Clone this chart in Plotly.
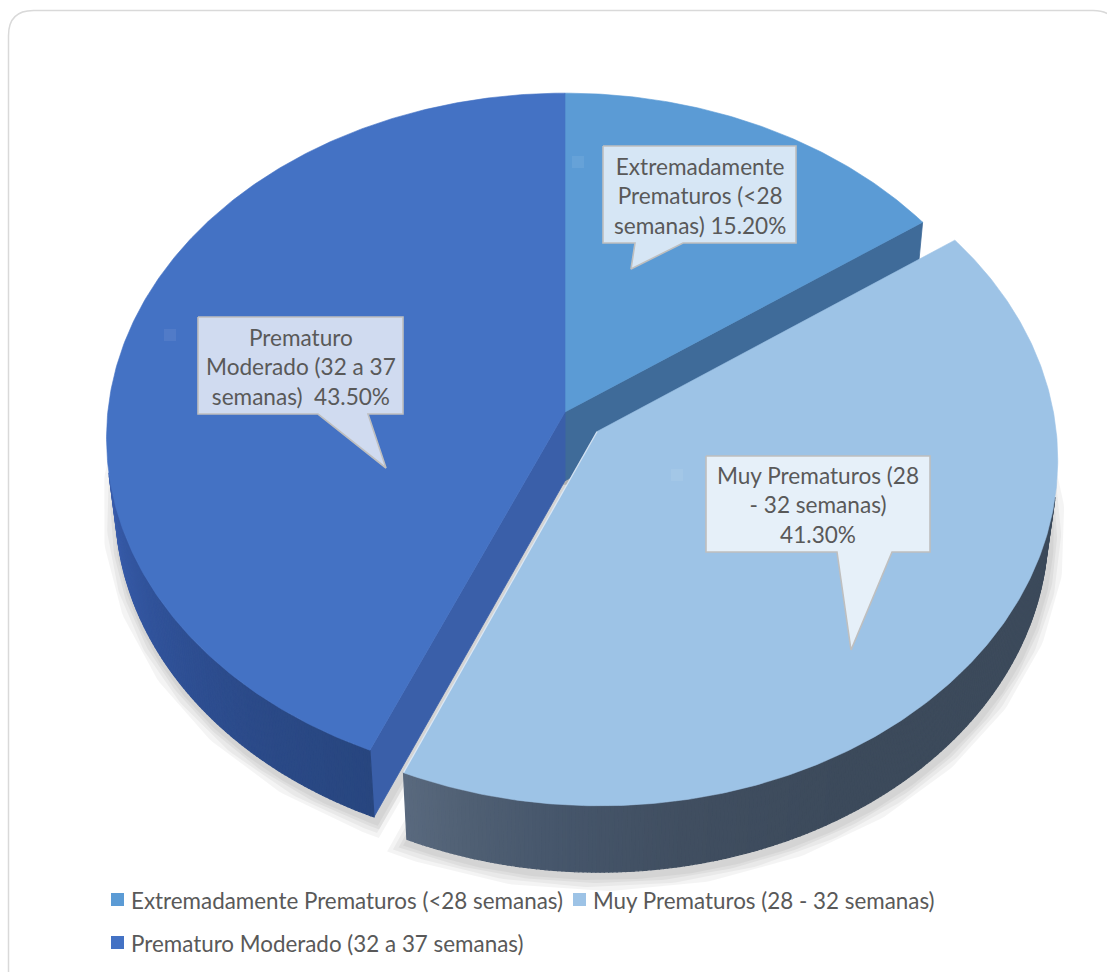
import numpy as np
import plotly.graph_objects as go

# ---------------------------------------------------------------- data
categories = [
    "Extremadamente Prematuros (<28 semanas)",
    "Muy Prematuros (28 - 32 semanas)",
    "Prematuro Moderado (32 a 37 semanas)",
]
percentages = [15.2, 41.3, 43.5]

# line breaks used inside the callouts; {v} receives the formatted value
label_templates = [
    "Extremadamente<br>Prematuros (&lt;28<br>semanas) {v}",
    "Muy Prematuros (28<br>- 32 semanas)<br>{v}",
    "Prematuro<br>Moderado (32 a 37<br>semanas)\u00a0\u00a0{v}",
]

# ---------------------------------------------------------------- style
top_colors = ["#5B9BD5", "#9DC3E6", "#4472C4"]
explode = [0.0, 0.09, 0.0]
# outer side-wall shading as (angle in degrees, colour) stops
rim_stops = [
    [(0, "#3F6B99"), (360, "#3F6B99")],
    [(0, "#3B4A5B"), (150, "#3C4A5B"), (170, "#404E60"), (185, "#46566B"),
     (195, "#4F5F73"), (205, "#5B6B80")],
    [(200, "#27457D"), (220, "#2B4A88"), (240, "#305299"), (265, "#3B5FAF"), (360, "#3B5FAF")],
]
cut_colors = ["#3F6B99", "#4A5A6E", "#3A5FA9"]   # radial cut faces
TEXT = "#595959"
FONT = "Lato"

W, H = 1107, 972
CX, CY = 565.0, 412.0          # screen position of the pie centre
FOCAL, DIST = 4005.0, 8.76     # perspective camera
TILT = np.radians(48.6)
THICK = 0.232                  # pie thickness (radius = 1)

# callout boxes: (x0, y0, x1, y1), pointer base x-range, pointer tip
callouts = [
    dict(box=(603, 146, 796, 243), base=(635, 683), tip=(631, 269), key=(572, 156)),
    dict(box=(706, 456, 930, 552), base=(837, 892), tip=(851, 650), key=(671, 469)),
    dict(box=(198, 317, 403, 414), base=(318, 368), tip=(386, 468), key=(164, 329)),
]
legend_pos = [(111, 900), (573, 900), (111, 943)]

ca, sa = np.cos(TILT), np.sin(TILT)
camera = np.array([0.0, DIST * sa, -DIST * ca])


def project(X, Y, Z):
    X, Y, Z = np.asarray(X, float), np.asarray(Y, float), np.asarray(Z, float)
    up = Y * ca + Z * sa
    depth = DIST + Z * ca - Y * sa
    return CX + FOCAL * X / depth, CY - FOCAL * up / depth


def hex_rgb(h):
    h = h.lstrip("#")
    return np.array([int(h[i:i + 2], 16) for i in (0, 2, 4)], float)


def shade(stops, ang):
    a = [s[0] for s in stops]
    cols = np.array([hex_rgb(s[1]) for s in stops])
    rgb = [np.interp(ang, a, cols[:, k]) for k in range(3)]
    return "rgb(%d,%d,%d)" % tuple(int(round(v)) for v in rgb)


fig = go.Figure()


def polygon(xs, ys, fill, line=None, width=0.8):
    xs, ys = list(xs), list(ys)
    fig.add_trace(go.Scatter(
        x=xs + [xs[0]], y=ys + [ys[0]], mode="lines", fill="toself",
        fillcolor=fill, line=dict(color=line or fill, width=width),
        hoverinfo="skip", showlegend=False))


def outline(xs, ys, color, width):
    fig.add_trace(go.Scatter(
        x=list(xs), y=list(ys), mode="lines",
        line=dict(color=color, width=width, shape="linear"),
        hoverinfo="skip", showlegend=False))


def facing(normal, point):
    return float(np.dot(normal, camera - point)) > 0


# slice angles, clockwise from twelve o'clock
total = float(sum(percentages))
bounds = np.concatenate([[0.0], np.cumsum(percentages) / total * 360.0])

slices = []
for i, pct in enumerate(percentages):
    t0, t1 = bounds[i], bounds[i + 1]
    mid = np.radians((t0 + t1) / 2)
    dx, dz = explode[i] * np.sin(mid), explode[i] * np.cos(mid)
    n = max(int((t1 - t0) * 2), 8)
    th = np.radians(np.linspace(t0, t1, n + 1))
    slices.append(dict(t0=t0, t1=t1, dx=dx, dz=dz, th=th))

# soft drop shadow round the base of each slice
for s in slices:
    th, dx, dz = s["th"], s["dx"], s["dz"]
    bx, by = project(np.concatenate([[dx], np.sin(th) + dx, [dx]]),
                     np.full(len(th) + 2, -THICK),
                     np.concatenate([[dz], np.cos(th) + dz, [dz]]))
    for w in (30, 22, 14, 8):
        outline(bx + 2, by + 4, "rgba(0,0,0,0.045)", w)

# side faces (only those turned towards the camera)
for i, s in enumerate(slices):
    th, dx, dz = s["th"], s["dx"], s["dz"]
    # radial cut faces
    for ang, sign in ((np.radians(s["t0"]), -1), (np.radians(s["t1"]), 1)):
        normal = sign * np.array([np.cos(ang), 0.0, -np.sin(ang)])
        point = np.array([dx + 0.5 * np.sin(ang), -THICK / 2, dz + 0.5 * np.cos(ang)])
        if facing(normal, point):
            X = [dx, dx + np.sin(ang), dx + np.sin(ang), dx]
            Y = [0, 0, -THICK, -THICK]
            Z = [dz, dz + np.cos(ang), dz + np.cos(ang), dz]
            px, py = project(X, Y, Z)
            polygon(px, py, cut_colors[i])
    # curved rim
    for k in range(len(th) - 1):
        a, b = th[k], th[k + 1]
        m = (a + b) / 2
        normal = np.array([np.sin(m), 0.0, np.cos(m)])
        point = np.array([np.sin(m) + dx, -THICK / 2, np.cos(m) + dz])
        if not facing(normal, point):
            continue
        X = [np.sin(a) + dx, np.sin(b) + dx, np.sin(b) + dx, np.sin(a) + dx]
        Y = [0, 0, -THICK, -THICK]
        Z = [np.cos(a) + dz, np.cos(b) + dz, np.cos(b) + dz, np.cos(a) + dz]
        px, py = project(X, Y, Z)
        c = shade(rim_stops[i], np.degrees(m))
        polygon(px, py, c, width=1.2)

# top faces
for i, s in enumerate(slices):
    th, dx, dz = s["th"], s["dx"], s["dz"]
    X = np.concatenate([[dx], np.sin(th) + dx])
    Z = np.concatenate([[dz], np.cos(th) + dz])
    px, py = project(X, np.zeros_like(X), Z)
    polygon(px, py, top_colors[i], width=0.6)
    if explode[i] > 0:
        # pale highlight on the exposed leading edge
        ang = np.radians(s["t1"])
        ex, ey = project([dx, dx + np.sin(ang)], [0, 0], [dz, dz + np.cos(ang)])
        outline(ex, ey, "rgba(235,242,250,0.75)", 1.3)

# data-label callouts
annotations = []
for i, c in enumerate(callouts):
    x0, y0, x1, y1 = c["box"]
    b0, b1 = c["base"]
    tx, ty = c["tip"]
    xs = [x0, x1, x1, b1, tx, b0, x0]
    ys = [y0, y0, y1, y1, ty, y1, y1]
    polygon(xs, ys, "rgba(255,255,255,0.75)", line="#BFBFBF", width=1.6)
    kx, ky = c["key"]
    polygon([kx, kx + 12, kx + 12, kx], [ky, ky, ky + 12, ky + 12],
            "rgba(255,255,255,0.07)", width=0)
    text = label_templates[i].format(v=f"{percentages[i]:.2f}%")
    annotations.append(dict(
        x=(x0 + x1) / 2, y=(y0 + y1) / 2 + 1, xref="x", yref="y", text=text,
        showarrow=False, align="center", xanchor="center", yanchor="middle",
        font=dict(family=FONT, size=22.6, color=TEXT)))

# legend
for i, (lx, ly) in enumerate(legend_pos):
    polygon([lx, lx + 13, lx + 13, lx], [ly - 7, ly - 7, ly + 6, ly + 6],
            top_colors[i], width=0)
    annotations.append(dict(
        x=lx + 18, y=ly, xref="x", yref="y", text=categories[i].replace("<", "&lt;"),
        showarrow=False, xanchor="left", yanchor="middle",
        font=dict(family=FONT, size=22.4, color=TEXT)))

# rounded chart-area border
frame = ("M 33.5,10.5 L 1093,10.5 Q 1118,10.5 1118,35.5 L 1118,995 "
         "L 8.5,995 L 8.5,35.5 Q 8.5,10.5 33.5,10.5 Z")

fig.update_layout(
    width=W, height=H, autosize=False,
    margin=dict(l=0, r=0, t=0, b=0),
    paper_bgcolor="white", plot_bgcolor="white",
    xaxis=dict(range=[0, W], visible=False, fixedrange=True),
    yaxis=dict(range=[H, 0], visible=False, fixedrange=True),
    showlegend=False,
    annotations=annotations,
    shapes=[dict(type="path", path=frame, xref="x", yref="y",
                 line=dict(color="#D9D9D9", width=1.5), layer="below")],
)

fig.write_html("out.html")
